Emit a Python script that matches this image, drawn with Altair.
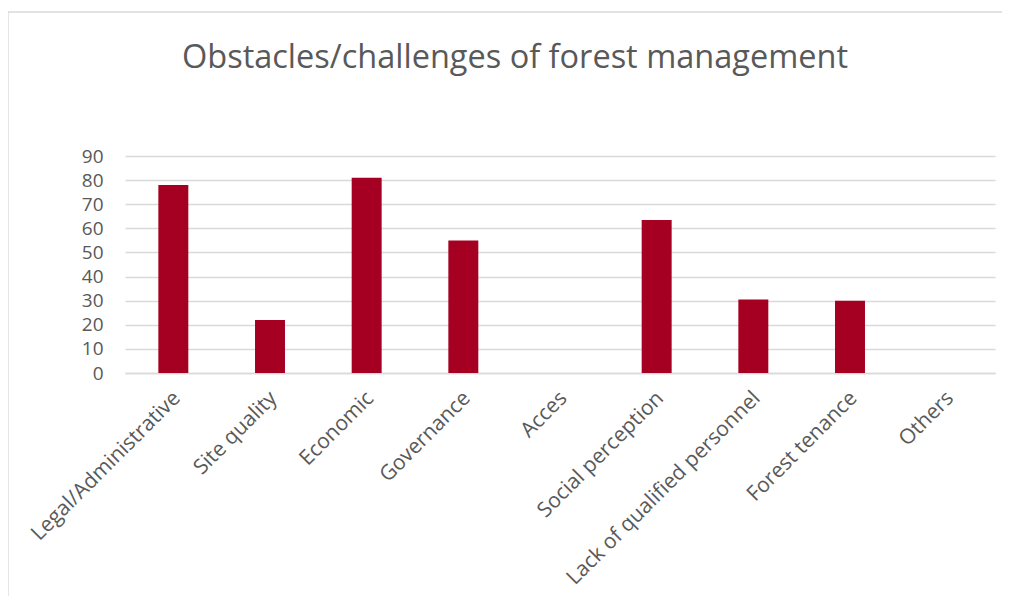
import altair as alt
import pandas as pd

categories = [
    "Legal/Administrative", "Site quality", "Economic", "Governance", "Acces",
    "Social perception", "Lack of qualified personnel", "Forest tenance", "Others",
]
values = [78, 22, 81, 55, 0, 63.5, 30.5, 30, 0]
y_ticks = [0, 10, 20, 30, 40, 50, 60, 70, 80, 90]

df = pd.DataFrame({"category": categories, "value": values})

FONT = "Open Sans"
GRID = "#d9d9d9"
TEXT = "#595959"
BAR = "#A50021"

bars = alt.Chart(df).mark_bar(color=BAR).encode(
    x=alt.X(
        "category:N", sort=categories, title=None,
        scale=alt.Scale(paddingInner=0.69, paddingOuter=0.345),
        axis=alt.Axis(
            labelAngle=-45, labelFontSize=21, labelColor=TEXT, labelFont=FONT,
            ticks=False, domainColor=GRID, domainWidth=1.3, labelPadding=14,
            labelOffset=-4, labelLimit=400, grid=False,
        ),
    ),
    y=alt.Y(
        "value:Q", title=None,
        scale=alt.Scale(domain=[0, 90], nice=False),
        axis=alt.Axis(
            values=y_ticks, labelFontSize=19, labelColor=TEXT, labelFont=FONT,
            ticks=False, domain=False, grid=True, gridColor=GRID, gridWidth=1.3,
            labelPadding=22,
        ),
    ),
)

frame_data = alt.Data(values=[{"k": 1}])
frame_left = alt.Chart(frame_data).mark_rule(color=GRID, strokeWidth=1.3).encode(
    x=alt.value(-117), y=alt.value(-144), y2=alt.value(470)
)
frame_top = alt.Chart(frame_data).mark_rule(color=GRID, strokeWidth=1.3).encode(
    x=alt.value(-117), x2=alt.value(900), y=alt.value(-144)
)

chart = alt.layer(frame_left, frame_top, bars).properties(
    width=870,
    height=217,
    autosize=alt.AutoSizeParams(type="none"),
    padding={"left": 117, "top": 148, "right": 7, "bottom": 223},
    title=alt.TitleParams(
        "Obstacles/challenges of forest management",
        font=FONT, fontSize=32.5, fontWeight="normal", color=TEXT,
        anchor="middle", dx=-45, offset=-63,
    ),
).configure(view=alt.ViewConfig(stroke=None))

chart.save("out.html", embed_options={"renderer": "svg", "actions": False})
